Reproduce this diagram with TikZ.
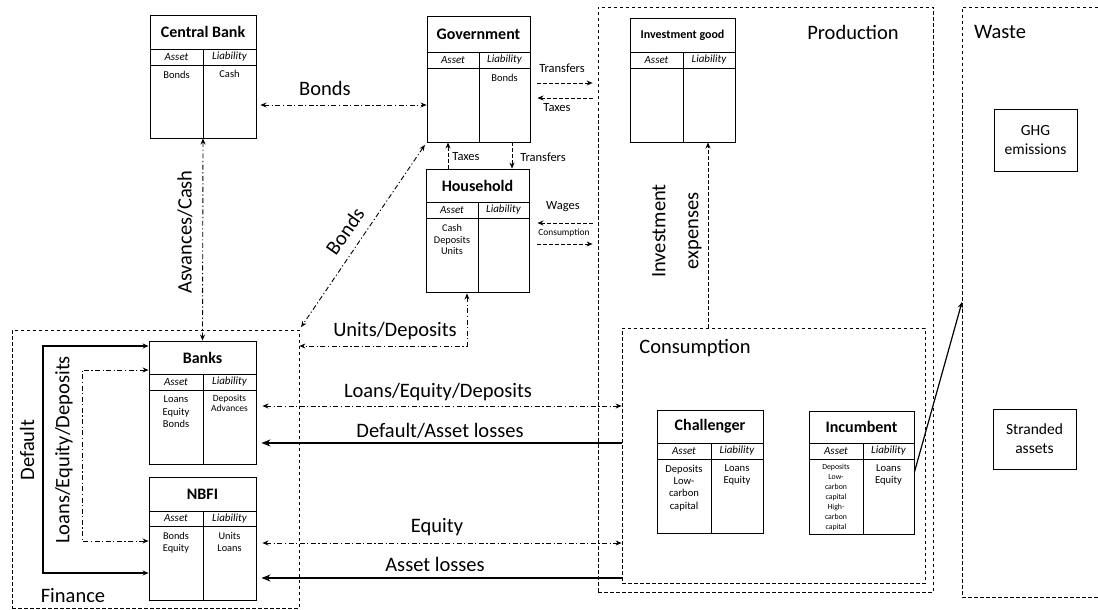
\documentclass[tikz,border=0pt]{standalone}
\usepackage{fontspec}
\setmainfont{Carlito}
\usetikzlibrary{arrows.meta}
\newcommand{\bsheet}[9]{%
  \node[bsbox, minimum width={(#4-#2)*1pt}, minimum height={(#5-#3)*1pt}] (#1) at ({(#2+#4)/2},{(#3+#5)/2}) {};
  \draw[bsline] (#2,#6) -- (#4,#6) (#2,#7) -- (#4,#7) (#8,#6) -- (#8,#5);
  \node[ttl] (#1-t) at ({(#2+#4)/2},{(#3+#6)/2}) {#9};
  \node[hdr] (#1-a) at ({(#2+#8)/2},{(#6+#7)/2}) {Asset};
  \node[hdr] (#1-l) at ({(#8+#4)/2},{(#6+#7)/2}) {Liability};
}
\begin{document}
\begin{tikzpicture}[x=1pt,y=-1pt,
  >={Stealth[length=6pt,width=5pt]},
  bsbox/.style={draw, line width=0.9pt, inner sep=0pt},
  bsline/.style={line width=0.9pt},
  ttl/.style={font=\bfseries\fontsize{16}{19}\selectfont, inner sep=0pt},
  hdr/.style={font=\itshape\fontsize{11}{12}\selectfont, inner sep=0pt},
  cnt/.style={font=\fontsize{10.5}{12.3}\selectfont, align=center, inner sep=0pt, anchor=north},
  region/.style={draw, line width=0.8pt, dash pattern=on 3.5pt off 2.5pt, inner sep=0pt},
  regionline/.style={line width=0.8pt, dash pattern=on 3.5pt off 2.5pt},
  dd/.style={line width=0.9pt, dash pattern=on 5pt off 2.5pt on 1.2pt off 2.5pt},
  dsh/.style={line width=0.9pt, dash pattern=on 4pt off 2pt},
  solidarrow/.style={line width=1.2pt},
  heavy/.style={line width=2.2pt, -{Stealth[length=9pt,width=7pt]}},
  big/.style={font=\fontsize{20.5}{24.5}\selectfont, inner sep=0pt},
  mid/.style={font=\fontsize{12.5}{15}\selectfont, inner sep=0pt},
  sml/.style={font=\fontsize{9.4}{11}\selectfont, inner sep=0pt},
  plainbox/.style={draw, line width=0.9pt, align=center, font=\fontsize{15.5}{19}\selectfont, inner sep=0pt},
]
\useasboundingbox (0,0) rectangle (1098,610);

% regions
\node[region, minimum width=287pt, minimum height=278pt] (fin) at (155.5,469) {};
\node[region, minimum width=335pt, minimum height=585pt] (prod) at (765.5,299.5) {};
\node[region, minimum width=303pt, minimum height=255pt] (cons) at (773.5,455.5) {};
\draw[regionline] (1110,7) -- (962,7) -- (962,597) -- (1110,597);
\coordinate (wastein) at (962,302);

\node[big] (finlbl) at (73,596) {Finance};
\node[big] (prodlbl) at (853,32) {Production};
\node[big] (wastelbl) at (1000,32) {Waste};
\node[big] (conslbl) at (695,348) {Consumption};

% balance sheets
\bsheet{cb}{150}{15}{256}{138}{49}{65}{203}{Central Bank}
\bsheet{gov}{427}{16}{530}{142}{52}{68}{479}{Government}
\bsheet{inv}{630}{18}{735}{142}{52}{68}{683}{\fontsize{12}{14}\selectfont Investment good}
\bsheet{hh}{426}{169}{529}{292}{202}{218}{478}{Household}
\bsheet{banks}{149}{341}{256}{464}{374}{390}{203}{Banks}
\bsheet{nbfi}{149}{477}{256}{600}{511}{526}{203}{NBFI}
\bsheet{chal}{657}{410}{763}{533}{443}{459}{711}{Challenger}
\bsheet{inc}{809}{411}{914}{534}{443}{459}{863}{Incumbent}

\node[cnt] (cb-as) at (176.5,71) {Bonds};
\node[cnt] (cb-li) at (229.5,70) {Cash};
\node[cnt] (gov-li) at (504.5,74) {Bonds};
\node[cnt, font=\fontsize{10.3}{11.7}\selectfont] (hh-as) at (452,224) {Cash\\Deposits\\Units};
\node[cnt] (banks-as) at (176,396) {Loans\\Equity\\Bonds};
\node[cnt, font=\fontsize{9.5}{10.2}\selectfont] (banks-li) at (229.5,395) {Deposits\\Advances};
\node[cnt, font=\fontsize{10.3}{12.6}\selectfont] (nbfi-as) at (176,532) {Bonds\\Equity};
\node[cnt, font=\fontsize{10.3}{12.6}\selectfont] (nbfi-li) at (229.5,532) {Units\\Loans};
\node[cnt, font=\fontsize{10.6}{12.2}\selectfont] (chal-as) at (684,465) {Deposits\\Low-\\carbon\\capital};
\node[cnt, font=\fontsize{10.6}{12.2}\selectfont] (chal-li) at (737,464) {Loans\\Equity};
\node[cnt, font=\fontsize{7.8}{10}\selectfont] (inc-as) at (836,464) {Deposits\\Low-\\carbon\\capital\\High-\\carbon\\capital};
\node[cnt, font=\fontsize{10.6}{12.2}\selectfont] (inc-li) at (888.5,464) {Loans\\Equity};

% waste boxes
\node[plainbox, minimum width=83pt, minimum height=62pt] (ghg) at (1035.5,140) {GHG\\emissions};
\node[plainbox, minimum width=83pt, minimum height=60pt] (stranded) at (1034.5,439) {Stranded\\assets};

% connectors
\draw[dd,<->,shorten <=4pt] (cb.east |- 0,105) -- (gov.west |- 0,105);
\node[big] (l-bonds1) at (325,88) {Bonds};

\draw[dd,<->] (cb.south) -- (banks.north);
\node[big, rotate=90] (l-adv) at (185,232) {Asvances/Cash};

\draw[dd,<->,shorten <=3pt,shorten >=3pt] (gov.south west) -- (fin.north east);
\node[big, rotate=55] (l-bonds2) at (345,231) {Bonds};

\draw[dsh,->,shorten <=7pt,shorten >=5pt] (gov.east |- 0,83) -- (prod.west |- 0,83);
\draw[dsh,<-,shorten <=7pt,shorten >=5pt] (gov.east |- 0,98) -- (prod.west |- 0,98);
\node[mid] (l-tr1) at (562,68) {Transfers};
\node[mid] (l-tx1) at (557,108) {Taxes};

\draw[dsh,->] (448,0 |- hh.north) -- (448,0 |- gov.south);
\draw[dsh,->] (512,0 |- gov.south) -- (512,0 |- hh.north);
\node[mid] (l-tx2) at (466,157) {Taxes};
\node[mid] (l-tr2) at (543,157) {Transfers};

\draw[dsh,<-,shorten <=8pt,shorten >=5pt] (hh.east |- 0,223) -- (prod.west |- 0,223);
\draw[dsh,->,shorten <=8pt,shorten >=5pt] (hh.east |- 0,244) -- (prod.west |- 0,244);
\node[mid] (l-wages) at (563,207) {Wages};
\node[sml] (l-cons) at (564,233) {Consumption};

\draw[dd,<->,shorten <=1pt] (467,0 |- hh.south) |- (fin.east |- 0,346);
\node[big] (l-units) at (395,331) {Units/Deposits};

\draw[dsh,->] (708,0 |- cons.north) -- (708,0 |- inv.south);
\node[big, rotate=90, align=center, font=\fontsize{20.5}{33}\selectfont] (l-inv) at (677,231) {Investment\\expenses};

\draw[dd,<->,shorten <=6pt] (banks.east |- 0,406) -- (cons.west |- 0,406);
\node[big] (l-led) at (438,392) {Loans/Equity/Deposits};
\draw[heavy,shorten >=5pt] (cons.west |- 0,443) -- (banks.east |- 0,443);
\node[big] (l-dal) at (440,431) {Default/Asset losses};
\draw[dd,<->,shorten <=6pt] (nbfi.east |- 0,543) -- (cons.west |- 0,543);
\node[big] (l-eq) at (437,527) {Equity};
\draw[heavy,shorten >=5pt] (cons.west |- 0,578) -- (nbfi.east |- 0,578);
\node[big] (l-al) at (435,564) {Asset losses};

\draw[solidarrow,<->] (banks.west |- 0,346) -| (43,460) |- (nbfi.west |- 0,573);
\node[big, rotate=90] (l-def) at (27,450) {Default};
\draw[dd,<->] (banks.west |- 0,370) -| (82,460) |- (nbfi.west |- 0,541);
\node[big, rotate=90] (l-led2) at (64,450) {Loans/Equity/Deposits};

\draw[solidarrow,->] (inc.east |- 0,472) -- (wastein);
\end{tikzpicture}
\end{document}
